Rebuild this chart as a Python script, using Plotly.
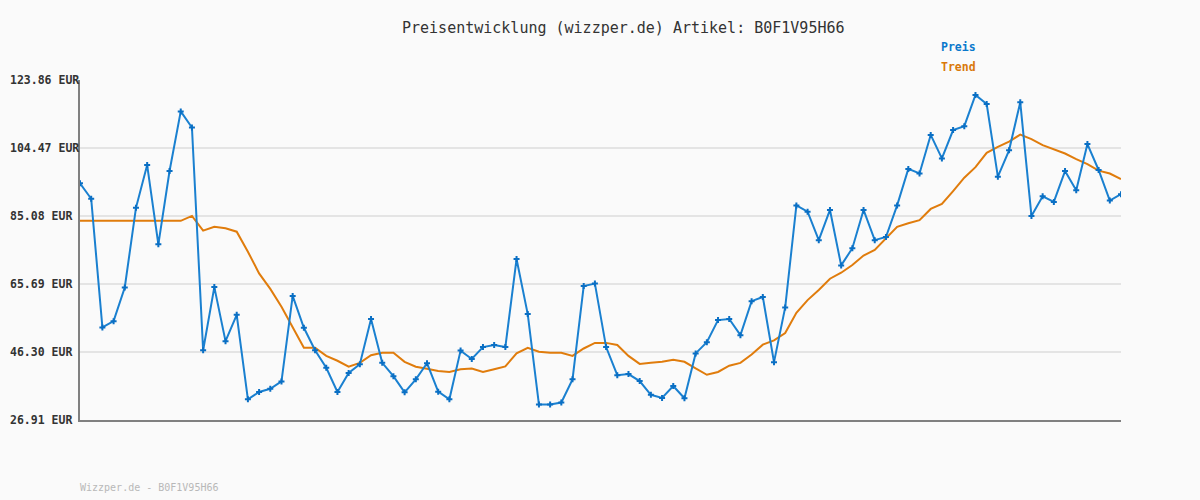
import plotly.graph_objects as go

# ---- data ----
price = [94.4, 90.0, 53.3, 55.1, 64.7, 87.4, 99.6, 77.0, 97.9, 114.9,
         110.3, 46.8, 64.8, 49.4, 56.9, 32.8, 34.9, 35.8, 37.9, 62.3,
         53.2, 46.8, 41.8, 34.9, 40.3, 42.8, 55.7, 43.2, 39.4, 34.8,
         38.5, 43.1, 35.0, 32.8, 46.7, 44.3, 47.7, 48.3, 47.7, 72.8,
         57.1, 31.3, 31.3, 31.9, 38.5, 65.1, 65.8, 47.7, 39.7, 40.0,
         38.0, 34.1, 33.2, 36.6, 33.1, 45.9, 49.1, 55.4, 55.7, 51.1,
         60.8, 62.0, 43.4, 59.0, 88.1, 86.3, 78.2, 86.8, 71.0, 75.9,
         86.8, 78.2, 79.1, 88.1, 98.5, 97.2, 108.2, 101.5, 109.6, 110.7,
         119.6, 117.0, 96.3, 103.8, 117.5, 85.1, 90.7, 89.1, 97.9, 92.4,
         105.6, 98.2, 89.5, 91.3]
trend = [83.7, 83.7, 83.7, 83.7, 83.7, 83.7, 83.7, 83.7, 83.7, 83.7,
         85.1, 80.9, 82.0, 81.6, 80.6, 74.9, 68.7, 64.3, 59.2, 53.3,
         47.5, 47.5, 45.2, 43.8, 42.1, 43.2, 45.4, 46.1, 46.1, 43.5,
         42.1, 41.5, 40.9, 40.6, 41.4, 41.6, 40.6, 41.4, 42.2, 45.9,
         47.5, 46.4, 46.1, 46.1, 45.2, 47.3, 48.9, 48.9, 48.3, 45.2,
         42.9, 43.2, 43.5, 44.1, 43.5, 41.6, 39.8, 40.6, 42.4, 43.2,
         45.6, 48.4, 49.6, 51.7, 57.5, 61.1, 64.0, 67.2, 68.9, 71.1,
         73.8, 75.4, 78.6, 82.0, 83.0, 83.9, 87.1, 88.5, 92.2, 96.0,
         99.0, 103.1, 104.8, 106.3, 108.3, 107.0, 105.3, 104.1, 102.9, 101.3,
         99.9, 98.0, 97.2, 95.6]
tick_vals = [26.91, 46.30, 65.69, 85.08, 104.47, 123.86]
tick_text = ["26.91 EUR", "46.30 EUR", "65.69 EUR", "85.08 EUR", "104.47 EUR", "123.86 EUR"]
title_text = "Preisentwicklung (wizzper.de) Artikel: B0F1V95H66"
footer_text = "Wizzper.de - B0F1V95H66"
legend_names = ["Preis", "Trend"]

x = list(range(len(price)))
BLUE = "#1a80d0"
BLUE_M = "#0a6fc4"
ORANGE = "#e07c0c"
MONO = "DejaVu Sans Mono"

fig = go.Figure()
fig.add_trace(go.Scatter(x=x, y=trend, mode="lines", name=legend_names[1],
                         line=dict(color=ORANGE, width=2), hoverinfo="skip"))
fig.add_trace(go.Scatter(x=x, y=price, mode="lines+markers", name=legend_names[0],
                         line=dict(color=BLUE, width=2),
                         marker=dict(symbol="cross", size=5, color=BLUE_M,
                                     line=dict(width=0))))

W, H = 1200, 500
L, R, T, B = 80, 79, 80, 80
pw = W - L - R

def px(xpix):
    return (xpix - L) / pw

annotations = [
    dict(text=title_text, xref="paper", yref="paper", x=px(623), y=1 + (T - 28) / (H - T - B),
         xanchor="center", yanchor="middle", showarrow=False,
         font=dict(family=MONO, size=15, color="#333333")),
    dict(text="<b>" + legend_names[0] + "</b>", xref="paper", yref="paper", x=px(939),
         y=1 + (T - 47) / (H - T - B), xanchor="left", yanchor="middle", showarrow=False,
         font=dict(family=MONO, size=11.5, color="#0a78cc")),
    dict(text="<b>" + legend_names[1] + "</b>", xref="paper", yref="paper", x=px(939),
         y=1 + (T - 67) / (H - T - B), xanchor="left", yanchor="middle", showarrow=False,
         font=dict(family=MONO, size=11.5, color="#d9780a")),
    dict(text=footer_text, xref="paper", yref="paper", x=px(78),
         y=-(487 - (H - B)) / (H - T - B), xanchor="left", yanchor="middle", showarrow=False,
         font=dict(family=MONO, size=10, color="#b8b8b8")),
]
for v, t in zip(tick_vals, tick_text):
    annotations.append(dict(text="<b>" + t + "</b>", xref="paper", yref="y", x=px(8), y=v,
                            xanchor="left", yanchor="middle", showarrow=False,
                            font=dict(family=MONO, size=11.5, color="#333333")))

fig.update_layout(
    width=W, height=H,
    margin=dict(l=L, r=R, t=T, b=B, pad=0),
    paper_bgcolor="#fafafa", plot_bgcolor="#fafafa",
    showlegend=False,
    annotations=annotations,
    xaxis=dict(range=[0, len(price) - 1], showgrid=False, zeroline=False,
               showticklabels=False, ticks="", showline=True, linecolor="#808080",
               linewidth=2, fixedrange=True),
    yaxis=dict(range=[tick_vals[0], tick_vals[-1]], tickvals=tick_vals,
               showticklabels=False, ticks="", showgrid=True, gridcolor="#e4e4e4",
               gridwidth=2, zeroline=False, showline=True, linecolor="#808080",
               linewidth=2, fixedrange=True),
)
fig.write_html("out.html")
